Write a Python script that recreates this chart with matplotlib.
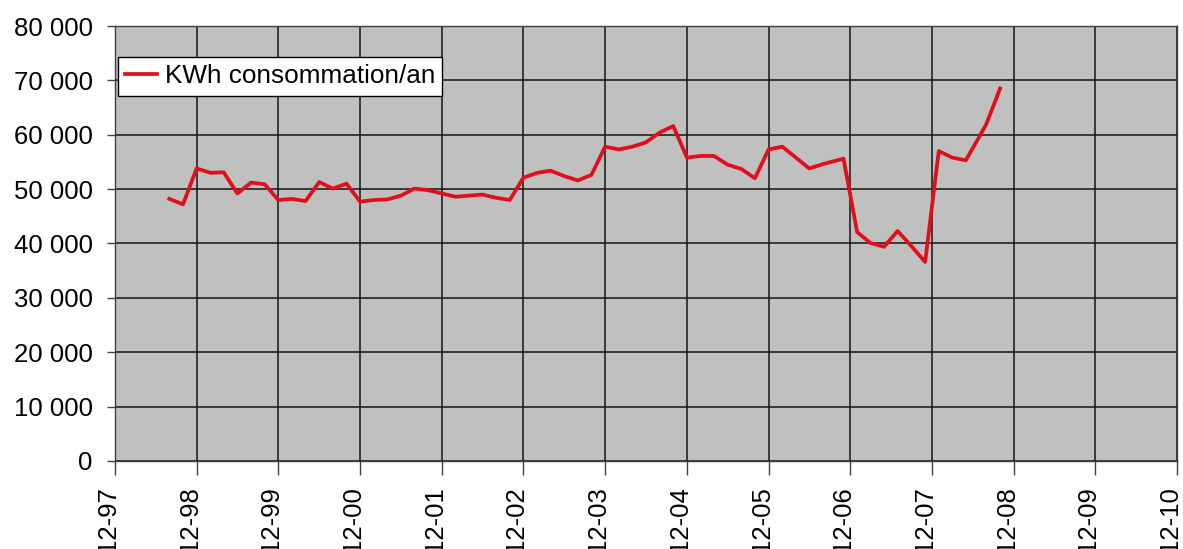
import matplotlib
matplotlib.use("Agg")
import matplotlib.pyplot as plt
import matplotlib.dates as mdates
import matplotlib.ticker as mticker
import matplotlib.transforms as mtransforms
import pandas as pd

plt.rcParams['font.family'] = ['Liberation Sans', 'DejaVu Sans']

months = [
    "1998-08", "1998-10", "1998-12", "1999-02", "1999-04", "1999-06", "1999-08", "1999-10",
    "1999-12", "2000-02", "2000-04", "2000-06", "2000-08", "2000-10", "2000-12", "2001-02",
    "2001-04", "2001-06", "2001-08", "2001-10", "2001-12", "2002-02", "2002-04", "2002-06",
    "2002-08", "2002-10", "2002-12", "2003-02", "2003-04", "2003-06", "2003-08", "2003-10",
    "2003-12", "2004-02", "2004-04", "2004-06", "2004-08", "2004-10", "2004-12", "2005-02",
    "2005-04", "2005-06", "2005-08", "2005-10", "2005-12", "2006-02", "2006-06", "2006-08",
    "2006-11", "2007-01", "2007-03", "2007-05", "2007-07", "2007-09", "2007-11", "2008-01",
    "2008-03", "2008-05", "2008-07", "2008-08", "2008-10",
]
kwh = [
    48200, 47200, 53800, 53000, 53100, 49200, 51200, 50900,
    48000, 48200, 47800, 51300, 50100, 51000, 47700, 48000,
    48100, 48800, 50100, 49800, 49200, 48600, 48800, 49000,
    48400, 48000, 52100, 53000, 53400, 52400, 51600, 52600,
    57800, 57300, 57800, 58600, 60400, 61600, 55800, 56100,
    56100, 54500, 53700, 52000, 57300, 57800, 53800, 54600,
    55600, 42100, 40100, 39400, 42300, 39500, 36600, 57000,
    55800, 55300, 59700, 62000, 68500,
]
series_label = "KWh consommation/an"
tick_years = list(range(1997, 2011))
y_ticks = [0, 10000, 20000, 30000, 40000, 50000, 60000, 70000, 80000]

dates = pd.to_datetime([m + "-01" for m in months])
tick_dates = pd.to_datetime([f"{y}-12-01" for y in tick_years])

fig = plt.figure(figsize=(11.83, 5.49), dpi=100)
ax = fig.add_axes([115/1183, 1 - 461/549, 1062/1183, 435/549])
ax.set_facecolor('#c0c0c0')

ax.plot(dates, kwh, color='#e0101a', lw=2.7, label=series_label, zorder=3,
        solid_joinstyle='round')

ax.set_xlim(tick_dates[0], tick_dates[-1])
ax.set_ylim(0, 80000)
ax.set_xticks(tick_dates)
ax.xaxis.set_major_formatter(mdates.DateFormatter('%m-%y'))
ax.set_yticks(y_ticks)
ax.yaxis.set_major_formatter(mticker.FuncFormatter(
    lambda v, p: f"{int(v):,}".replace(",", " ")))

ax.grid(True, color='#151515', lw=1.1, zorder=1)
ax.set_axisbelow(True)
for s in ax.spines.values():
    s.set_color('#404040')
    s.set_linewidth(1.0)

ax.tick_params(axis='both', which='major', labelsize=18.5,
               width=1.0, color='#404040', direction='out')
ax.tick_params(axis='y', length=6, pad=10)
ax.tick_params(axis='x', length=10, pad=8)
shift = mtransforms.ScaledTranslation(-7/100, 0, fig.dpi_scale_trans)
for lab in ax.get_xticklabels():
    lab.set_rotation(90)
    lab.set_ha('center')
    lab.set_va('top')
    lab.set_transform(lab.get_transform() + shift)

leg = ax.legend(loc='upper left', bbox_to_anchor=(0.003, 0.929), fontsize=18.8,
                frameon=True, fancybox=False, edgecolor='black', framealpha=1,
                handlelength=1.2, handletextpad=0.3, borderpad=0.28,
                borderaxespad=0)
leg.get_frame().set_linewidth(1.0)

fig.savefig('out.png', dpi=100)
